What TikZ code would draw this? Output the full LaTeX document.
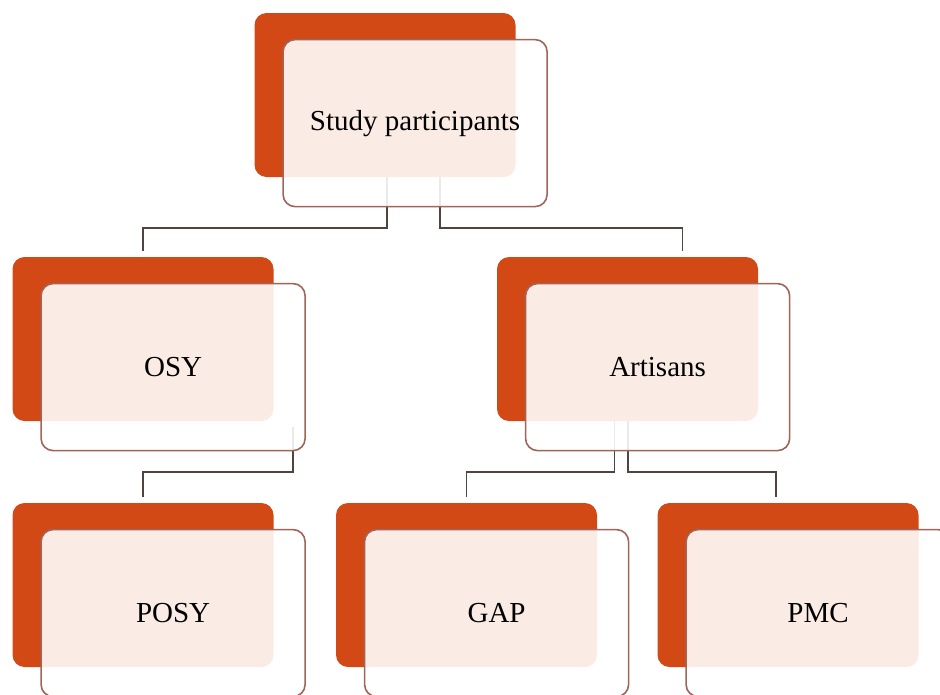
\documentclass[tikz,border=0pt]{standalone}
\usepackage{fontspec}
\setmainfont{Liberation Serif}
\usepackage{xcolor}
\usetikzlibrary{calc, positioning}

\definecolor{backred}{RGB}{210,73,22}
\definecolor{frontline}{RGB}{160,100,88}
\definecolor{linkgray}{RGB}{80,68,64}

\begin{document}
\begin{tikzpicture}[
    x=1pt, y=-1pt,
    backbox/.style={rectangle, rounded corners=12pt, fill=backred, inner sep=0pt, minimum width=261pt, minimum height=164pt},
    frontbox/.style={rectangle, rounded corners=12pt, draw=frontline, line width=1.6pt, fill=white, fill opacity=0.89, text opacity=1, inner sep=0pt, minimum width=264pt, minimum height=167pt, anchor=north west, font=\fontsize{29}{33}\selectfont},
    link/.style={draw=linkgray, line width=1.8pt, shorten >=6pt}
]
\useasboundingbox (0,0) rectangle (940,694);
\clip (0,0) rectangle (940,694);

\node[backbox] (spB) at (385,95) {};
\node[backbox] (osyB) at (143,339) {};
\node[backbox] (artB) at (627.5,339) {};
\node[backbox] (posyB) at (143,585) {};
\node[backbox] (gapB) at (466.5,585) {};
\node[backbox] (pmcB) at (788,585) {};

\draw[link] ($(spB.south)+(2,0)$) -- ++(0,51) -| (osyB.north);
\draw[link] ($(spB.south)+(55,0)$) -- ++(0,51) -| ($(artB.north)+(55,0)$);
\draw[link] ($(osyB.south east)+(19,6)$) -- ++(0,45) -| (posyB.north);
\draw[link] ($(artB.south)+(-13,0)$) -- ++(0,51) -| (gapB.north);
\draw[link] ($(artB.south)+(0.5,0)$) -- ++(0,51) -| ($(pmcB.north)+(-12,0)$);

\node[frontbox] (sp) at ([shift={(28,26)}]spB.north west) {Study participants};
\node[frontbox] (osy) at ([shift={(28,26)}]osyB.north west) {OSY};
\node[frontbox] (art) at ([shift={(28,26)}]artB.north west) {Artisans};
\node[frontbox] (posy) at ([shift={(28,26)}]posyB.north west) {POSY};
\node[frontbox] (gap) at ([shift={(28,26)}]gapB.north west) {GAP};
\node[frontbox] (pmc) at ([shift={(28,26)}]pmcB.north west) {PMC};

\end{tikzpicture}
\end{document}
